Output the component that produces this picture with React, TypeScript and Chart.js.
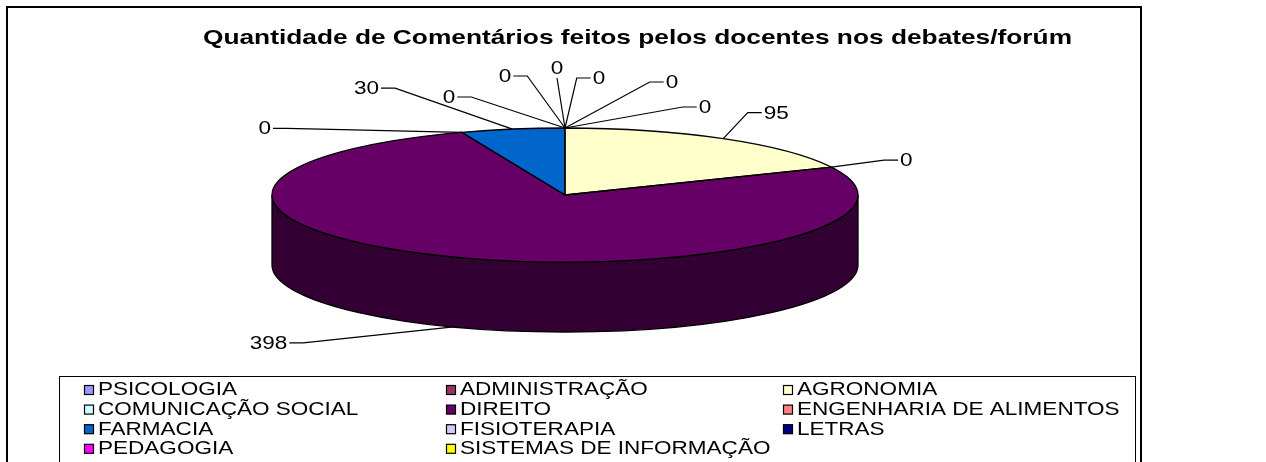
import React, { useEffect, useRef } from "react";
import { Chart, registerables } from "chart.js";

Chart.register(...registerables);

// ---- data ----
const categories = [
  "PSICOLOGIA",
  "ADMINISTRAÇÃO",
  "AGRONOMIA",
  "COMUNICAÇÃO SOCIAL",
  "DIREITO",
  "ENGENHARIA DE ALIMENTOS",
  "FARMACIA",
  "FISIOTERAPIA",
  "LETRAS",
  "PEDAGOGIA",
  "SISTEMAS DE INFORMAÇÃO",
];
const comentarios = [0, 0, 95, 0, 398, 0, 30, 0, 0, 0, 0];
const sliceColors = [
  "#9999FF",
  "#993366",
  "#FFFFCC",
  "#CCFFFF",
  "#660066",
  "#FF8080",
  "#0066CC",
  "#CCCCFF",
  "#000080",
  "#FF00FF",
  "#FFFF00",
];
const chartTitle = "Quantidade de Comentários feitos pelos docentes nos debates/forúm";

// ---- layout ----
const W = 1266;
const H = 462;
const CX = 565;
const CY = 195;
const RX = 293;
const RY = 67;
const DEPTH = 70;
const FONT = '"Liberation Sans", Arial, sans-serif';
const TITLE_TARGET_W = 869;
// label text-centre offsets from each slice's anchor point
const labelOffsets: [number, number][] = [
  [107, -46],
  [140, -21],
  [53, -26],
  [75, -7],
  [-185, 16],
  [-197, -4],
  [-146, -41],
  [-116, -31],
  [-60, -52],
  [-8, -60],
  [34, -50],
];
const legendColX = [84, 446, 783];
const legendRowY0 = 390;
const legendRowH = 19.6;

function shade(hex: string, f: number) {
  const n = parseInt(hex.slice(1), 16);
  const r = Math.round(((n >> 16) & 255) * f);
  const g = Math.round(((n >> 8) & 255) * f);
  const b = Math.round((n & 255) * f);
  return `rgb(${r},${g},${b})`;
}

let STRETCH = 1.25;

function drawText(
  ctx: CanvasRenderingContext2D,
  text: string,
  x: number,
  y: number,
  align: CanvasTextAlign,
  font: string
) {
  ctx.save();
  ctx.font = font;
  ctx.textAlign = align;
  ctx.textBaseline = "middle";
  ctx.fillStyle = "#000";
  ctx.translate(x, y);
  ctx.scale(STRETCH, 1);
  ctx.fillText(text, 0, 0);
  ctx.restore();
}

function textW(ctx: CanvasRenderingContext2D, text: string, font: string) {
  ctx.save();
  ctx.font = font;
  const w = ctx.measureText(text).width * STRETCH;
  ctx.restore();
  return w;
}

const pie3d = {
  id: "pie3d",
  beforeDraw(chart: any) {
    const ctx: CanvasRenderingContext2D = chart.ctx;
    ctx.save();
    ctx.fillStyle = "#fff";
    ctx.fillRect(0, 0, W, H);
    ctx.font = `bold 21px ${FONT}`;
    STRETCH = TITLE_TARGET_W / ctx.measureText(chartTitle).width;
    ctx.restore();
  },
  beforeDatasetsDraw(chart: any) {
    const ctx: CanvasRenderingContext2D = chart.ctx;
    const meta = chart.getDatasetMeta(0);
    const bg = chart.data.datasets[0].backgroundColor as string[];
    let px = CX;
    let py = CY;
    let R = RX;
    meta.data.forEach((el: any, i: number) => {
      const p = el.getProps(["x", "y", "startAngle", "endAngle", "outerRadius"], true);
      px = p.x;
      py = p.y;
      R = p.outerRadius;
      const ry = RY;
      const a = Math.max(p.startAngle, 0);
      const b = Math.min(p.endAngle, Math.PI);
      if (b <= a) return;
      ctx.save();
      ctx.beginPath();
      ctx.ellipse(p.x, p.y, R, ry, 0, a, b);
      ctx.lineTo(p.x + R * Math.cos(b), p.y + ry * Math.sin(b) + DEPTH);
      ctx.ellipse(p.x, p.y + DEPTH, R, ry, 0, b, a, true);
      ctx.closePath();
      ctx.fillStyle = shade(bg[i], 0.5);
      ctx.fill();
      ctx.lineWidth = 1.3;
      ctx.strokeStyle = "#000";
      ctx.stroke();
      ctx.restore();
    });
    ctx.save();
    ctx.translate(px, py);
    ctx.scale(1, RY / R);
    ctx.translate(-px, -py);
  },
  afterDatasetsDraw(chart: any) {
    const ctx: CanvasRenderingContext2D = chart.ctx;
    ctx.restore();
    const meta = chart.getDatasetMeta(0);
    const values = chart.data.datasets[0].data as number[];
    const bg = chart.data.datasets[0].backgroundColor as string[];
    const labels = chart.data.labels as string[];

    // top face outlines
    meta.data.forEach((el: any) => {
      const p = el.getProps(["x", "y", "startAngle", "endAngle", "outerRadius"], true);
      if (p.endAngle - p.startAngle <= 0) return;
      const R = p.outerRadius;
      ctx.save();
      ctx.beginPath();
      ctx.moveTo(p.x, p.y);
      ctx.lineTo(p.x + R * Math.cos(p.startAngle), p.y + RY * Math.sin(p.startAngle));
      ctx.ellipse(p.x, p.y, R, RY, 0, p.startAngle, p.endAngle);
      ctx.closePath();
      ctx.lineWidth = 1.3;
      ctx.strokeStyle = "#000";
      ctx.stroke();
      ctx.restore();
    });

    // data labels with leader lines
    const lf = `18px ${FONT}`;
    meta.data.forEach((el: any, i: number) => {
      const p = el.getProps(["x", "y", "startAngle", "endAngle", "outerRadius"], true);
      const R = p.outerRadius;
      const m = (p.startAngle + p.endAngle) / 2;
      let ax = p.x + R * Math.cos(m);
      let ay = p.y + RY * Math.sin(m);
      if (Math.sin(m) > 0.05) ay += DEPTH;
      const [dx, dy] = labelOffsets[i];
      const tx = ax + dx;
      const ty = ay + dy;
      const txt = String(values[i]);
      const w = textW(ctx, txt, lf);
      ctx.save();
      ctx.strokeStyle = "#000";
      ctx.lineWidth = 1.2;
      ctx.beginPath();
      if (dx > 12) {
        const lx = tx - w / 2;
        ctx.moveTo(ax, ay);
        ctx.lineTo(lx - 16, ty);
        ctx.lineTo(lx - 2, ty);
      } else if (dx < -12) {
        const rx = tx + w / 2;
        ctx.moveTo(ax, ay);
        ctx.lineTo(rx + 16, ty);
        ctx.lineTo(rx + 2, ty);
      } else {
        ctx.moveTo(ax, ay);
        ctx.lineTo(tx, ty + 10);
      }
      ctx.stroke();
      ctx.restore();
      drawText(ctx, txt, tx, ty + 1, "center", lf);
    });

    // title
    drawText(ctx, chartTitle, 637.5, 38, "center", `bold 21px ${FONT}`);

    // legend
    ctx.save();
    ctx.strokeStyle = "#000";
    ctx.lineWidth = 1;
    ctx.strokeRect(59.5, 376.5, 1076, 100);
    ctx.restore();
    labels.forEach((lab, i) => {
      const col = i % 3;
      const row = Math.floor(i / 3);
      const bx = legendColX[col];
      const cy = legendRowY0 + row * legendRowH;
      ctx.save();
      ctx.fillStyle = bg[i];
      ctx.fillRect(bx + 0.5, cy - 4.5, 9, 9);
      ctx.strokeStyle = "#000";
      ctx.lineWidth = 1.2;
      ctx.strokeRect(bx + 0.5, cy - 4.5, 9, 9);
      ctx.restore();
      drawText(ctx, lab, bx + 14, cy + 0.5, "left", `18px ${FONT}`);
    });

    // outer frame
    ctx.save();
    ctx.strokeStyle = "#000";
    ctx.lineWidth = 2;
    ctx.strokeRect(7, 7, 1134, 480);
    ctx.restore();
  },
};

export default function App() {
  const ref = useRef<HTMLCanvasElement>(null);
  useEffect(() => {
    const chart = new Chart(ref.current as HTMLCanvasElement, {
      type: "pie",
      data: {
        labels: categories,
        datasets: [
          {
            data: comentarios,
            backgroundColor: sliceColors,
            borderWidth: 0,
            clip: false as any,
          },
        ],
      },
      options: {
        animation: false,
        responsive: false,
        devicePixelRatio: 1,
        events: [],
        radius: RX,
        layout: {
          padding: { left: 0, top: 0, right: W - 2 * CX, bottom: H - 2 * CY },
        },
        plugins: {
          legend: { display: false },
          title: { display: false },
          tooltip: { enabled: false },
        },
      } as any,
      plugins: [pie3d as any],
    });
    return () => chart.destroy();
  }, []);
  return (
    <div style={{ position: "fixed", left: 0, top: 0, width: W, height: H, background: "#fff" }}>
      <canvas ref={ref} width={W} height={H} style={{ display: "block", width: W, height: H }} />
    </div>
  );
}
